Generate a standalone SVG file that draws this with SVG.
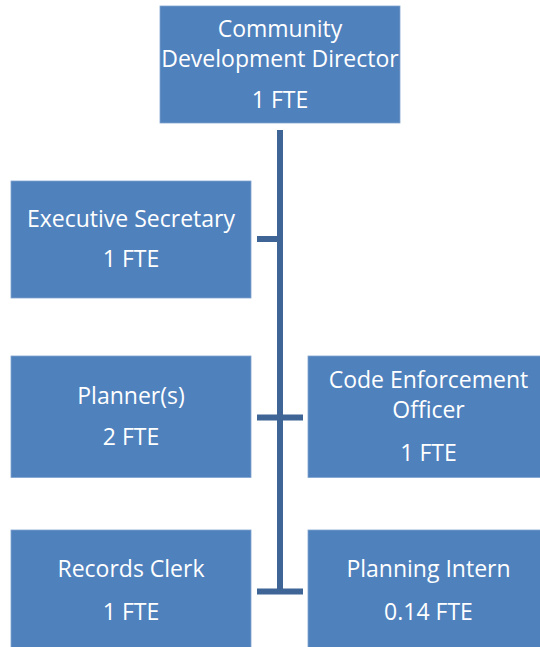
<svg xmlns="http://www.w3.org/2000/svg" width="540" height="647" viewBox="0 0 540 647">
<style>
.box{fill:#4F81BD;stroke:#7FA3D0;stroke-width:0.8}
.t{font-family:"Open Sans","Liberation Sans",sans-serif;font-size:23px;fill:#FFFFFF;text-anchor:middle}
.ln{stroke:#3E6596;stroke-width:6;fill:none}
</style>
<rect width="540" height="647" fill="#FFFFFF"/>
<g id="connectors">
<line class="ln" x1="280" y1="130" x2="280" y2="594"/>
<line class="ln" x1="257" y1="239" x2="280" y2="239"/>
<line class="ln" x1="257" y1="417.5" x2="303" y2="417.5"/>
<line class="ln" x1="257" y1="591.5" x2="303" y2="591.5"/>
</g>
<g id="director">
<rect class="box" x="160" y="6" width="240" height="117"/>
<text class="t" x="280" y="37">Community</text>
<text class="t" x="280" y="67">Development Director</text>
<text class="t" x="280" y="107.5">1 FTE</text>
</g>
<g id="exec-secretary">
<rect class="box" x="11" y="181" width="240" height="117"/>
<text class="t" x="131" y="226.5">Executive Secretary</text>
<text class="t" x="131" y="267">1 FTE</text>
</g>
<g id="planners">
<rect class="box" x="11" y="356" width="240" height="121.5"/>
<text class="t" x="131" y="403.5">Planner(s)</text>
<text class="t" x="131" y="445">2 FTE</text>
</g>
<g id="code-enforcement">
<rect class="box" x="308" y="356" width="241" height="121.5"/>
<text class="t" x="428.5" y="387.5">Code Enforcement</text>
<text class="t" x="428.5" y="417.5">Officer</text>
<text class="t" x="428.5" y="460.5">1 FTE</text>
</g>
<g id="records-clerk">
<rect class="box" x="11" y="530" width="240" height="125"/>
<text class="t" x="131" y="577">Records Clerk</text>
<text class="t" x="131" y="620">1 FTE</text>
</g>
<g id="planning-intern">
<rect class="box" x="308" y="530" width="241" height="125"/>
<text class="t" x="428.5" y="577">Planning Intern</text>
<text class="t" x="428.5" y="620">0.14 FTE</text>
</g>
</svg>
